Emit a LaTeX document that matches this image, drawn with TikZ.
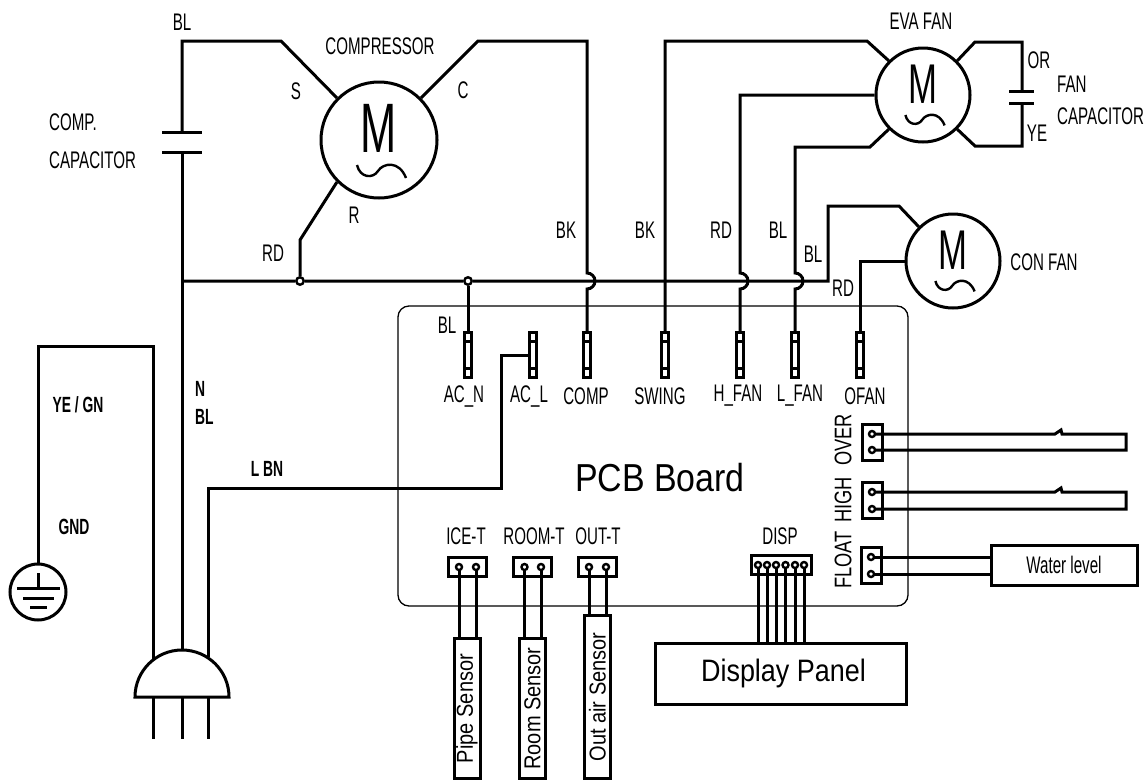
\documentclass[tikz,border=0pt]{standalone}
\usepackage{fontspec}
\usetikzlibrary{positioning}
\newfontfamily\labelfont[FakeStretch=0.63]{Liberation Sans}
\newfontfamily\sidefont[FakeStretch=0.76]{Liberation Sans}
\newfontfamily\boxfont[FakeStretch=0.87]{Liberation Sans}
\newfontfamily\motorfont[FakeStretch=0.62]{Liberation Sans}
\newcommand{\hop}{arc[start angle=-90,end angle=90,radius=8]}
\tikzset{
  wire/.style={line width=3pt,line join=miter},
  tag/.style={font=\labelfont\fontsize{24}{26}\selectfont,inner sep=0pt},
  vtag/.style={rotate=90,font=\sidefont\fontsize{24}{26}\selectfont,inner sep=0pt},
  boldtag/.style={font=\labelfont\bfseries\fontsize{22}{24}\selectfont,inner sep=0pt},
  motor/.style={draw,circle,line width=3pt,inner sep=0pt,minimum size=#1},
  bigm/.style={font=\motorfont\fontsize{#1}{#1}\selectfont,inner sep=0pt},
  terminal/.style={draw,line width=3pt,inner sep=0pt,minimum width=7pt,minimum height=45pt,
    path picture={\draw[line width=2.4pt]
      ([yshift=-9pt]path picture bounding box.north west) -- ([yshift=-9pt]path picture bounding box.north east)
      ([yshift=9pt]path picture bounding box.south west) -- ([yshift=9pt]path picture bounding box.south east);}},
  plugbox/.style={draw,line width=3pt,inner sep=0pt,minimum width=#1,minimum height=19pt},
  vplugbox/.style={draw,line width=3pt,inner sep=0pt,minimum width=20pt,minimum height=36pt},
  pin/.style={draw,circle,fill=white,line width=2.4pt,inner sep=0pt,minimum size=6pt},
  dot/.style={draw,circle,fill=white,line width=2.4pt,inner sep=0pt,minimum size=7.5pt},
  probe/.style={draw,line width=3pt,inner sep=0pt,anchor=south,minimum width=26pt,
    font=\boxfont\fontsize{23}{24}\selectfont},
  panel/.style={draw,line width=3pt,inner sep=0pt}
}
\begin{document}
\begin{tikzpicture}[x=1pt,y=-1pt]
  \useasboundingbox (0,0) rectangle (1148,782);
  \draw[line width=1.3pt,rounded corners=11pt] (398,306) rectangle (908,606);
  \node[font=\boxfont\fontsize{39}{40}\selectfont,inner sep=0pt] (PCB) at (660,478) {PCB Board};

  % motors
  \node[motor=116pt] (COMPR) at (379,140) {};
  \node[motor=94pt] (EVAFAN) at (923,95) {};
  \node[motor=94pt] (CONFAN) at (953,261) {};
  \node[bigm=70] (Mcompr) at (379,128) {M};
  \node[bigm=56] (Meva) at (923,84) {M};
  \node[bigm=56] (Mcon) at (953,250) {M};
  \foreach \motor/\size in {COMPR/1,EVAFAN/.8,CONFAN/.8}
    \draw[line width=2.4pt,shift={(\motor.center)},scale=\size]
      (-22,25) .. controls (-19,38) and (-6,39) .. (-1,31) .. controls (4,23) and (20,20) .. (27,38);

  % terminals on the board
  \node[terminal] (ACN) at (468,355) {};
  \node[on grid,terminal,right=65pt of ACN] (ACL) {};
  \node[on grid,terminal,right=54pt of ACL] (COMP) {};
  \node[on grid,terminal,right=78pt of COMP] (SWING) {};
  \node[on grid,terminal,right=75pt of SWING] (HFAN) {};
  \node[on grid,terminal,right=55pt of HFAN] (LFAN) {};
  \node[on grid,terminal,right=65pt of LFAN] (OFAN) {};
  \node[tag] at (464,396) {AC\_N};
  \node[tag] at (529,396) {AC\_L};
  \node[tag] at (586,396) {COMP};
  \node[tag] at (660,396) {SWING};
  \node[tag] at (738,396) {H\_FAN};
  \node[tag] at (800,396) {L\_FAN};
  \node[tag] at (865,396) {OFAN};

  % mains rail
  \coordinate (RAILL) at (182,281);
  \node[dot] (JR) at (300,281) {};
  \node[dot] (JN) at (468,281) {};
  \coordinate (RAILR) at (828,281);
  \coordinate (CAPA) at (182,132);
  \coordinate (CAPB) at (182,152);
  \draw[wire] (162,132) -- (202,132) (162,152) -- (202,152);
  \draw[wire] (CAPA) -- (182,41) -- (281,41) -- (COMPR.135);
  \draw[wire] (RAILL) -- (JR) -- (JN) -- (RAILR) -- (828,206) -- (899,206) -- (CONFAN.135);
  \draw[wire] (COMPR.225) -- (300,240) -- (JR);
  \draw[wire] (JN) -- (ACN.north);
  \draw[wire] (COMPR.45) -- (478,41) -- (587,41) -- (587,273) \hop -- (COMP.north);
  \draw[wire] (SWING.north) -- (665,41) -- (867,41) -- (EVAFAN.135);
  \draw[wire] (EVAFAN.west) -- (740,95) -- (740,273) \hop -- (HFAN.north);
  \draw[wire] (EVAFAN.225) -- (870,147) -- (795,147) -- (795,273) \hop -- (LFAN.north);
  \draw[wire] (CONFAN.west) -- (860,261) -- (OFAN.north);
  \draw[wire] (ACL.west) -- (501,355) -- (501,488) -- (208,488) -- (208,657);
  \draw[wire] (CAPB) -- (182,650);
  \draw[wire] (153,659) -- (153,346) -- (38,346) -- (38,564);

  % fan capacitor
  \draw[wire] (EVAFAN.45) -- (975,42) -- (1022,42) -- (1022,91);
  \draw[wire] (1009,91) -- (1034,91) (1009,103) -- (1034,103);
  \draw[wire] (1022,103) -- (1022,146) -- (975,146) -- (EVAFAN.-45);

  % earth and plug
  \node[motor=56pt] (GND) at (38,592) {};
  \draw[wire] (38,573) -- (38,588) (17,588) -- (60,588) (23,598) -- (54,598) (30,607) -- (47,607);
  \draw[wire] (135,697) arc[start angle=180,end angle=360,radius=47] -- cycle;
  \foreach \px in {153,182,208} \draw[wire] (\px,697) -- (\px,739);

  % sensors
  \node[plugbox=38pt] (ICET) at (467.5,566.5) {};
  \node[on grid,plugbox=38pt,right=65pt of ICET] (ROOMT) {};
  \node[on grid,plugbox=38pt,right=65pt of ROOMT] (OUTT) {};
  \node[tag] at (466,536) {ICE-T};
  \node[tag] at (534,536) {ROOM-T};
  \node[tag] at (598,536) {OUT-T};
  \node[probe,minimum height=140pt] (PIPE) at (467,780) {\rotatebox{90}{Pipe Sensor}};
  \node[probe,minimum height=140pt] (ROOM) at (532.5,780) {\rotatebox{90}{Room Sensor}};
  \node[probe,minimum height=163pt] (OUTAIR) at (597.5,780) {\rotatebox{90}{Out air Sensor}};
  \foreach \plug/\xa/\xb/\ytop in {ICET/459/476/640,ROOMT/524.5/541/640,OUTT/589/606/617} {
    \draw[wire] (\xa,567) -- (\xa,\ytop) (\xb,567) -- (\xb,\ytop);
    \node[pin] at (\xa,567) {};
    \node[pin] at (\xb,567) {};
  }

  % display
  \node[panel,minimum width=251pt,minimum height=61pt,font=\boxfont\fontsize{31}{34}\selectfont] (DISPLAY) at (780.5,673.5) {\hspace*{6pt}Display Panel};
  \node[plugbox=60pt] (DISP) at (781,564.5) {};
  \node[tag] at (780,536) {DISP};
  \foreach \px in {758,767,776,785.5,795,804} {
    \draw[wire] (\px,565) -- (\px,643);
    \node[pin] at (\px,565) {};
  }

  % float switches
  \node[vplugbox] (OVER) at (872,442) {};
  \node[on grid,vplugbox,below=58pt of OVER] (HIGH) {};
  \node[on grid,vplugbox,below=65pt of HIGH,xshift=-1pt] (FLOAT) {};
  \node[vtag] at (843,440) {OVER};
  \node[vtag] at (843,500) {HIGH};
  \node[vtag] at (843,560) {FLOAT};
  \node[panel,minimum width=146pt,minimum height=40pt,font=\labelfont\fontsize{24}{26}\selectfont] (WATER) at (1064,565) {Water level};
  \foreach \ya/\yb in {434/450,492/509} {
    \draw[wire] (872,\ya) -- (1055,\ya) -- (1061,\ya-4) -- (1062,\ya) -- (1126,\ya) -- (1126,\yb) -- (872,\yb);
    \node[pin] at (872,\ya) {};
    \node[pin] at (872,\yb) {};
  }
  \draw[wire] (871,557) -- (991,557) (871,574) -- (991,574);
  \node[pin] at (871,557) {};
  \node[pin] at (871,574) {};

  % labels
  \node[tag] at (182,22) {BL};
  \node[tag] at (380,46) {COMPRESSOR};
  \node[tag] at (296,91) {S};
  \node[tag] at (463,90) {C};
  \node[tag] at (354,215) {R};
  \node[tag] at (273,253) {RD};
  \node[tag,anchor=west] at (49,122) {COMP.};
  \node[tag,anchor=west] at (49,160) {CAPACITOR};
  \node[tag] at (566,230) {BK};
  \node[tag] at (645,230) {BK};
  \node[tag] at (721,230) {RD};
  \node[tag] at (778,230) {BL};
  \node[tag] at (813,254) {BL};
  \node[tag] at (843,288) {RD};
  \node[tag] at (447,325) {BL};
  \node[tag] at (921,21) {EVA FAN};
  \node[tag] at (1039,60) {OR};
  \node[tag] at (1037,133) {YE};
  \node[tag,anchor=west] at (1057,84) {FAN};
  \node[tag,anchor=west] at (1057,116) {CAPACITOR};
  \node[tag] at (1044,262) {CON FAN};
  \node[boldtag] at (78,405) {YE / GN};
  \node[boldtag,anchor=west] at (195,389) {N};
  \node[boldtag,anchor=west] at (195,417) {BL};
  \node[boldtag] at (267,469) {L BN};
  \node[boldtag] at (74,527) {GND};
\end{tikzpicture}
\end{document}
